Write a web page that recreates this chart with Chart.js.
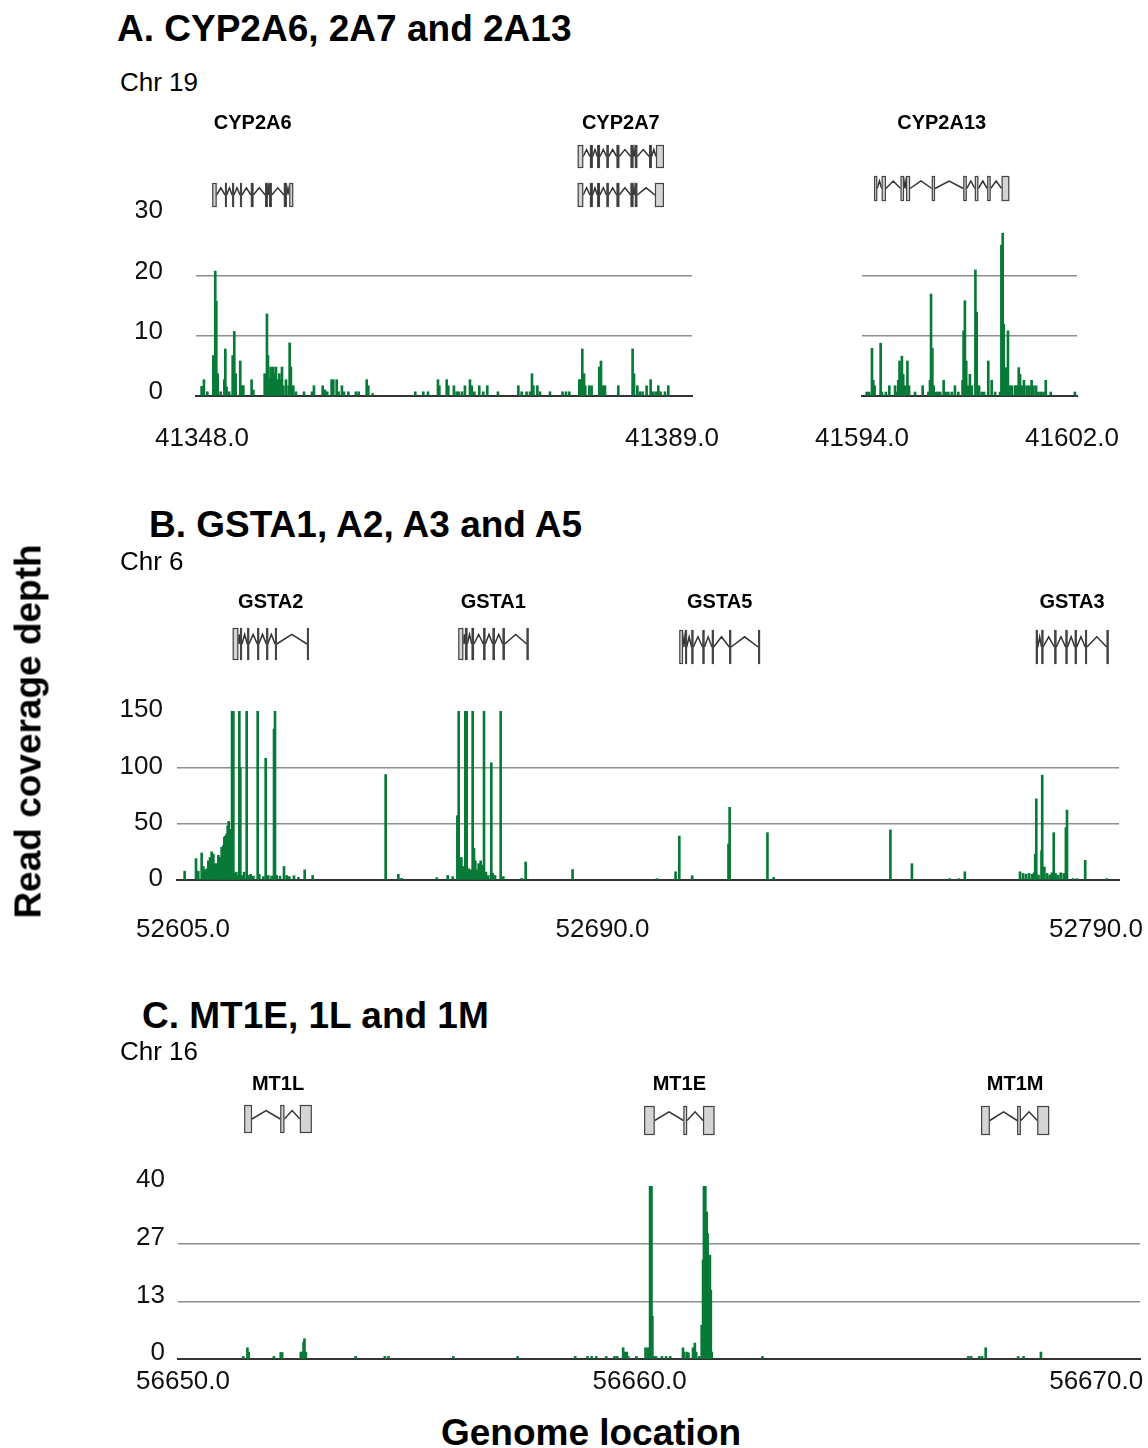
<!DOCTYPE html>
<html lang="en">
<head>
<meta charset="UTF-8" />
<title>Read coverage depth</title>
<script src="https://cdn.jsdelivr.net/npm/chart.js"></script>
<style>
  body { margin: 0; background: #fff; font-family: "Liberation Sans", Arial, sans-serif; }
  #page { position: relative; width: 1148px; height: 1448px; overflow: hidden; }
  canvas { position: absolute; }
  .txt { position: absolute; white-space: nowrap; color: #000; line-height: 1; }
  .title { font-size: 37px; font-weight: bold; }
  .chr { font-size: 26px; }
</style>
</head>
<body>
<div id="page">
  <canvas id="aLeft" width="740" height="370" style="left:0;top:100px"></canvas>
  <canvas id="aRight" width="358" height="370" style="left:790px;top:100px"></canvas>
  <canvas id="bChart" width="1148" height="420" style="left:0;top:560px"></canvas>
  <canvas id="cChart" width="1148" height="370" style="left:0;top:1040px"></canvas>

  <div class="txt title" style="left:117px;top:10px">A. CYP2A6, 2A7 and 2A13</div>
  <div class="txt chr" style="left:120px;top:69px">Chr 19</div>
  <div class="txt title" style="left:149px;top:506px">B. GSTA1, A2, A3 and A5</div>
  <div class="txt chr" style="left:120px;top:548px">Chr 6</div>
  <div class="txt title" style="left:142px;top:997px">C. MT1E, 1L and 1M</div>
  <div class="txt chr" style="left:120px;top:1038px">Chr 16</div>
  <div class="txt title" style="left:-172px;top:713px;width:400px;text-align:center;transform:rotate(-90deg)">Read coverage depth</div>
  <div class="txt title" style="left:391px;top:1414px;width:400px;text-align:center">Genome location</div>
</div>
<script>
// coverage: [genome location (kb), read depth]
const cypLeftReads = [
  [41347.97,1.6],[41348.17,2.7],[41348.47,0.7],[41348.99,6.7],[41349.16,20.7],[41349.25,15.7],[41349.37,3.7],[41349.63,0.7],[41349.95,2.7],[41350.04,7.8],
  [41350.15,1.5],[41350.38,0.7],[41350.68,6.7],[41350.82,10.7],[41350.94,3.7],[41351.34,5.8],[41351.46,1.7],[41351.61,1.7],[41352.33,2.7],[41352.48,1],
  [41353.47,3.7],[41353.67,13.6],[41353.76,6.7],[41353.87,2.9],[41353.99,4.8],[41354.11,3.7],[41354.22,4.8],[41354.37,3.7],[41354.46,4.8],[41354.57,2.7],
  [41354.75,3.7],[41354.86,2.7],[41354.98,4.8],[41355.10,1.7],[41355.33,2.7],[41355.56,1.7],[41355.65,8.8],[41355.76,4.8],[41355.97,1.7],[41356.20,0.7],
  [41356.90,0.7],[41357.60,0.7],[41357.77,1.7],[41358.53,1.7],[41358.73,1],[41358.93,0.7],[41359.31,2.7],[41359.46,2.7],[41359.75,2.7],[41359.92,0.7],
  [41360.21,1.7],[41360.39,0.7],[41360.77,0.7],[41361.43,0.7],[41361.67,0.7],[41362.37,2.7],[41362.51,1.7],[41362.89,0.4],[41366.61,0.7],[41367.31,0.7],
  [41367.72,0.7],[41368.59,2.7],[41368.71,1.7],[41369.35,2.7],[41369.49,1.7],[41369.98,1.7],[41370.22,0.7],[41370.39,0.7],[41370.68,0.7],[41370.94,1.7],
  [41371.38,2.7],[41371.53,1.7],[41371.76,0.7],[41372.19,1.7],[41372.54,0.7],[41372.89,1.7],[41373.82,0.7],[41375.60,1.7],[41375.89,0.7],[41376.32,0.7],
  [41376.62,0.7],[41376.79,3.7],[41376.91,1.7],[41377.26,1.7],[41377.49,0.7],[41378.36,0.7],[41379.46,0.7],[41379.76,0.7],[41380.05,0.7],[41380.92,2.7],
  [41381.03,2.7],[41381.18,7.8],[41381.33,3.7],[41381.44,1.7],[41381.79,1.7],[41381.99,1.7],[41382.66,4.8],[41382.81,5.8],[41383.01,1.7],[41383.16,1.7],
  [41384.32,1.7],[41385.57,7.8],[41385.69,3.7],[41385.98,1.7],[41386.21,0.7],[41386.44,0.7],[41386.79,1.7],[41387.14,2.7],[41387.37,0.7],[41387.61,0.7],
  [41387.81,1.7],[41388.01,0.7],[41388.39,0.7],[41388.68,1.7]
];
const cypRightReads = [
  [41594.18,0.66],[41594.27,0.66],[41594.38,7.9],[41594.43,2.6],[41594.48,1.7],[41594.71,8.75],[41594.76,0.66],[41594.91,0.66],[41595.04,1.7],[41595.26,1.7],
  [41595.32,0.66],[41595.38,2.6],[41595.43,5.8],[41595.49,3.6],[41595.52,6.6],[41595.57,3.6],[41595.64,1.7],[41595.73,5.8],[41595.79,1.7],[41596.02,0.66],
  [41596.31,1.7],[41596.53,0.66],[41596.59,2.6],[41596.63,16.9],[41596.68,7.9],[41596.73,1.7],[41596.82,0.66],[41596.90,0.66],[41596.98,0.66],[41597.11,2.6],
  [41597.19,0.66],[41597.29,0.66],[41597.42,0.66],[41597.54,1.7],[41597.67,0.66],[41597.83,2.6],[41597.87,10.8],[41597.92,15.8],[41597.97,5.8],[41598.03,1.7],
  [41598.11,3.6],[41598.18,1.7],[41598.32,20.9],[41598.37,13.9],[41598.46,1.7],[41598.56,0.66],[41598.65,0.66],[41598.81,5.8],[41598.94,2.6],[41599.07,0.66],
  [41599.26,0.66],[41599.31,25.0],[41599.36,27.0],[41599.40,11.9],[41599.49,4.7],[41599.56,10.8],[41599.64,1.7],[41599.71,1.7],[41599.83,1.7],[41599.89,1.7],
  [41599.97,4.7],[41600.02,3.6],[41600.08,1.7],[41600.17,2.6],[41600.27,1.7],[41600.37,1.7],[41600.46,2.6],[41600.53,1.7],[41600.63,1.7],[41600.72,0.66],
  [41600.81,0.66],[41600.91,0.66],[41601.00,2.6],[41601.19,0.66],[41602.11,0.66]
];
const gstaReads = [
  [52605.33,7.8],[52607.63,19],[52608.10,7.8],[52608.78,24],[52609.12,12],[52609.45,9],[52609.79,10],[52610.13,17],[52610.47,20],[52610.80,25],
  [52611.14,23],[52611.48,14.5],[52611.82,14.5],[52612.16,22],[52612.49,20],[52612.83,29],[52613.17,30.5],[52613.37,38],[52613.57,39],[52613.84,41],
  [52614.05,48],[52614.25,52],[52614.52,41],[52614.72,45],[52614.93,150],[52615.20,150],[52615.47,6],[52615.80,7],[52616.14,4],[52616.41,150],
  [52616.61,100],[52616.95,4],[52617.36,7],[52617.90,150],[52618.30,4],[52618.71,5],[52619.25,3.5],[52620.13,150],[52620.46,5],[52621.27,3],
  [52621.75,108],[52622.29,4],[52622.96,3.5],[52623.44,134],[52623.64,150],[52623.98,4],[52624.65,3.5],[52625.46,12],[52626.00,4],[52626.54,3],
  [52627.49,3.8],[52628.37,2.3],[52629.65,9],[52631.27,4],[52646.06,93.6],[52648.63,5],[52649.31,1.5],[52656.40,2],[52658.63,4],[52659.64,3],
  [52660.59,57],[52660.86,150],[52661.13,14.5],[52661.40,20],[52661.80,12],[52662.21,150],[52662.48,150],[52662.88,10],[52663.29,9],[52663.69,150],
  [52663.96,28],[52664.23,17],[52664.50,9],[52664.91,14.5],[52665.31,17],[52665.58,13],[52665.99,150],[52666.39,7],[52666.87,4],[52667.47,104],
  [52667.75,6],[52668.22,4],[52669.37,150],[52669.91,3],[52673.62,1.5],[52674.43,16],[52683.94,9.3],[52701.04,1.2],[52704.81,7.3],[52705.56,39],
  [52708.18,3.8],[52715.53,32],[52715.76,64.5],[52723.42,42],[52724.69,2.3],[52748.34,44.5],[52752.70,14.5],[52760.34,1.2],[52762.22,1.2],[52763.42,7.3],
  [52774.60,7.3],[52775.21,5.8],[52775.80,5.2],[52776.41,5.8],[52777.01,5.2],[52777.46,6.4],[52777.68,23],[52777.90,72],[52778.35,4.4],[52778.96,26],
  [52779.10,93],[52779.54,11.6],[52780.07,5.8],[52780.60,4.4],[52781.06,6.4],[52781.43,42],[52781.81,5.8],[52782.32,4.4],[52782.85,6.4],[52783.46,5.8],
  [52783.90,46.5],[52784.12,62],[52785.34,1.2],[52786.09,1.2],[52787.81,17.4],[52792.17,1.2]
];
const mtReads = [
  [56651.32,0.6],[56651.41,2.6],[56651.44,1.6],[56651.99,0.6],[56652.14,1.5],[56652.17,1.5],[56652.58,1.6],[56652.61,1.6],[56652.64,3.9],[56652.66,4.7],
  [56652.69,1.6],[56653.78,0.6],[56654.42,0.6],[56654.50,0.6],[56655.92,0.6],[56657.33,0.6],[56658.59,0.6],[56658.86,0.6],[56658.95,0.6],[56659.05,0.6],
  [56659.27,0.6],[56659.45,0.6],[56659.51,0.6],[56659.64,2.6],[56659.68,1.6],[56659.72,1.6],[56659.75,0.6],[56659.93,0.6],[56660.13,2.6],[56660.18,2.6],
  [56660.23,40],[56660.26,40],[56660.28,9.9],[56660.31,0.6],[56660.36,0.6],[56660.49,0.6],[56660.58,0.6],[56660.67,0.6],[56660.95,2.6],[56660.98,1.6],
  [56661.04,1.6],[56661.07,1.4],[56661.17,2.6],[56661.21,3.7],[56661.24,1.6],[56661.31,0.6],[56661.36,7.8],[56661.39,22.9],[56661.41,40],[56661.44,40],
  [56661.47,34],[56661.49,29],[56661.51,24],[56661.54,24],[56661.56,15.9],[56661.58,1.6],[56662.69,0.6],[56667.20,0.6],[56667.26,0.6],[56667.44,0.6],
  [56667.50,0.6],[56667.58,2.6],[56668.29,0.6],[56668.41,0.6],[56668.79,1.6]
];

const cypLeftTicks = [41348, 41389];
const cypRightTicks = [41594, 41602];
const gstaTicks = [52605, 52690, 52790];
const mtTicks = [56650, 56660, 56670];
const cypDepthTicks = [0, 10, 20, 30];
const gstaDepthTicks = [0, 50, 100, 150];
const mtDepthTicks = [0, 40 / 3, 80 / 3, 40];

// exons, [start, end] in kb
const cyp2a6Exons = [[41348.90,41349.28],[41350.01,41350.15],[41350.64,41350.79],[41351.32,41351.49],[41352.27,41352.48],[41353.52,41353.73],[41353.87,41354.08],[41355.15,41355.39],[41355.62,41355.96]];
const cyp2a7ExonsLong = [[41380.78,41381.26],[41381.85,41382.08],[41382.49,41382.72],[41383.30,41383.48],[41384.18,41384.40],[41385.40,41385.63],[41385.77,41385.97],[41387.02,41387.23],[41387.61,41388.30]];
const cyp2a7ExonsShort = [[41380.78,41381.26],[41381.85,41382.08],[41382.49,41382.72],[41383.30,41383.48],[41384.18,41384.40],[41385.40,41385.63],[41385.77,41385.97],[41387.52,41388.30]];
const cyp2a13Exons = [[41594.46,41594.58],[41594.75,41594.91],[41595.47,41595.60],[41595.68,41595.83],[41596.66,41596.78],[41597.86,41597.99],[41598.30,41598.43],[41598.77,41598.90],[41599.32,41599.61]];
const gsta2Exons = [[52615.07,52616.20],[52616.55,52616.95],[52618.03,52618.37],[52620.05,52620.34],[52621.88,52622.16],[52623.64,52623.98],[52630.12,52630.47]];
const gsta1Exons = [[52660.78,52661.79],[52662.14,52662.61],[52663.50,52663.96],[52665.85,52666.25],[52667.75,52668.16],[52669.78,52670.18],[52674.64,52674.97]];
const gsta5Exons = [[52705.56,52706.31],[52706.76,52707.06],[52708.04,52708.40],[52710.28,52710.65],[52712.17,52712.53],[52715.69,52716.06],[52721.53,52721.92]];
const gsta3Exons = [[52777.82,52778.21],[52778.96,52779.26],[52781.57,52781.96],[52783.84,52784.21],[52785.71,52786.09],[52787.81,52788.17],[52792.17,52792.45]];
const mt1lExons = [[56651.34,56651.51],[56652.13,56652.22],[56652.56,56652.82]];
const mt1eExons = [[56660.10,56660.33],[56660.96,56661.04],[56661.39,56661.64]];
const mt1mExons = [[56667.48,56667.67],[56668.27,56668.35],[56668.71,56668.97]];

const FONT = "'Liberation Sans', Arial, sans-serif";
const GREEN = "#087a38";

// gene model: boxes for exons, caret lines for introns
function drawModel(ctx, x, exons, top, bottom) {
  const mid = (top + bottom) / 2;
  const h = bottom - top;
  ctx.lineWidth = 1.5;
  ctx.strokeStyle = "#333";
  ctx.beginPath();
  for (let i = 0; i < exons.length - 1; i++) {
    const a = x.getPixelForValue(exons[i][1]);
    const b = x.getPixelForValue(exons[i + 1][0]);
    ctx.moveTo(a, mid);
    ctx.lineTo((a + b) / 2, mid - h * 0.3);
    ctx.lineTo(b, mid);
  }
  ctx.stroke();
  ctx.lineWidth = 1.2;
  exons.forEach(([s, e]) => {
    const a = x.getPixelForValue(s);
    const w = Math.max(x.getPixelForValue(e) - a, 1.8);
    ctx.fillStyle = w < 3 ? "#2e2e2e" : "#d4d4d4";
    ctx.fillRect(a, top, w, h);
    ctx.strokeStyle = "#444";
    ctx.strokeRect(a + 0.5, top + 0.5, w - 1, h - 1);
  });
}

function genesPlugin(genes, labelY) {
  return {
    id: "genes",
    afterDraw(chart) {
      const ctx = chart.ctx;
      const x = chart.scales.x;
      ctx.save();
      genes.forEach((g) => {
        let lo = Infinity, hi = -Infinity;
        g.rows.forEach((r) => {
          lo = Math.min(lo, r.exons[0][0]);
          hi = Math.max(hi, r.exons[r.exons.length - 1][1]);
          drawModel(ctx, x, r.exons, r.top, r.bottom);
        });
        ctx.fillStyle = "#000";
        ctx.font = "bold 20px " + FONT;
        ctx.textAlign = "center";
        ctx.textBaseline = "middle";
        ctx.fillText(g.name, x.getPixelForValue((lo + hi) / 2), labelY);
      });
      ctx.restore();
    },
  };
}

function makeChart(id, cfg) {
  return new Chart(document.getElementById(id), {
    type: "bar",
    data: {
      datasets: [{
        data: cfg.reads.map(([p, d]) => ({ x: p, y: d })),
        backgroundColor: GREEN,
        borderWidth: 0,
        barThickness: 2,
      }],
    },
    options: {
      responsive: false,
      animation: false,
      devicePixelRatio: 1,
      layout: { padding: cfg.padding },
      plugins: { legend: { display: false }, tooltip: { enabled: false } },
      scales: {
        x: {
          type: "linear",
          min: cfg.xMin,
          max: cfg.xMax,
          offset: false,
          grid: { display: false, offset: false, drawTicks: false },
          border: { display: true, color: "#333", width: 2 },
          afterBuildTicks: (s) => { s.ticks = cfg.xTicks.map((v) => ({ value: v })); },
          afterFit: (s) => { s.height = cfg.xHeight; s.paddingLeft = 0; s.paddingRight = 0; },
          ticks: {
            font: { family: FONT, size: 26 },
            color: "#111",
            padding: cfg.xPad,
            maxRotation: 0,
            autoSkip: false,
            callback: (v) => Number(v).toFixed(1),
          },
        },
        y: {
          min: 0,
          max: cfg.yMax,
          border: { display: false },
          afterBuildTicks: (s) => { s.ticks = cfg.yTicks.map((v) => ({ value: v })); },
          afterFit: (s) => { s.width = cfg.yWidth; s.paddingTop = 0; s.paddingBottom = 0; },
          grid: {
            drawTicks: false,
            lineWidth: 1.5,
            color: (c) => (c.tick && c.tick.value > 0 && c.tick.value < cfg.yMax ? "#8e8e8e" : "rgba(0,0,0,0)"),
          },
          ticks: {
            display: cfg.yLabels,
            font: { family: FONT, size: 26 },
            color: "#111",
            padding: cfg.yPad,
            labelOffset: cfg.yOff,
            callback: (v) => Math.round(v),
          },
        },
      },
    },
    plugins: [genesPlugin(cfg.genes, cfg.labelY)],
  });
}

makeChart("aLeft", {
  reads: cypLeftReads, xTicks: cypLeftTicks, yTicks: cypDepthTicks,
  xMin: 41347.48, xMax: 41390.75, yMax: 30,
  padding: { left: 136, right: 48, top: 115, bottom: 14 },
  yWidth: 60, xHeight: 60, xPad: 27, yPad: 33, yOff: -4, yLabels: true,
  labelY: 23,
  genes: [
    { name: "CYP2A6", rows: [{ exons: cyp2a6Exons, top: 83, bottom: 107 }] },
    { name: "CYP2A7", rows: [{ exons: cyp2a7ExonsLong, top: 45, bottom: 68 }, { exons: cyp2a7ExonsShort, top: 83, bottom: 107 }] },
  ],
});

makeChart("aRight", {
  reads: cypRightReads, xTicks: cypRightTicks, yTicks: cypDepthTicks,
  xMin: 41594, xMax: 41602.19, yMax: 30,
  padding: { left: 72, right: 71, top: 115, bottom: 14 },
  yWidth: 0, xHeight: 60, xPad: 27, yPad: 0, yOff: 0, yLabels: false,
  labelY: 23,
  genes: [{ name: "CYP2A13", rows: [{ exons: cyp2a13Exons, top: 76, bottom: 101 }] }],
});

makeChart("bChart", {
  reads: gstaReads, xTicks: gstaTicks, yTicks: gstaDepthTicks,
  xMin: 52603.78, xMax: 52794.66, yMax: 150,
  padding: { left: 117, right: 29, top: 151, bottom: 40 },
  yWidth: 60, xHeight: 60, xPad: 34, yPad: 14, yOff: -1, yLabels: true,
  labelY: 42,
  genes: [
    { name: "GSTA2", rows: [{ exons: gsta2Exons, top: 68, bottom: 100 }] },
    { name: "GSTA1", rows: [{ exons: gsta1Exons, top: 68, bottom: 100 }] },
    { name: "GSTA5", rows: [{ exons: gsta5Exons, top: 70, bottom: 104 }] },
    { name: "GSTA3", rows: [{ exons: gsta3Exons, top: 70, bottom: 104 }] },
  ],
});

makeChart("cChart", {
  reads: mtReads, xTicks: mtTicks, yTicks: mtDepthTicks,
  xMin: 56649.89, xMax: 56670.96, yMax: 40,
  padding: { left: 118, right: 8, top: 146, bottom: 1 },
  yWidth: 60, xHeight: 50, xPad: 7, yPad: 13, yOff: -6, yLabels: true,
  labelY: 44,
  genes: [
    { name: "MT1L", rows: [{ exons: mt1lExons, top: 65, bottom: 93 }] },
    { name: "MT1E", rows: [{ exons: mt1eExons, top: 66, bottom: 95 }] },
    { name: "MT1M", rows: [{ exons: mt1mExons, top: 66, bottom: 95 }] },
  ],
});
</script>
</body>
</html>
